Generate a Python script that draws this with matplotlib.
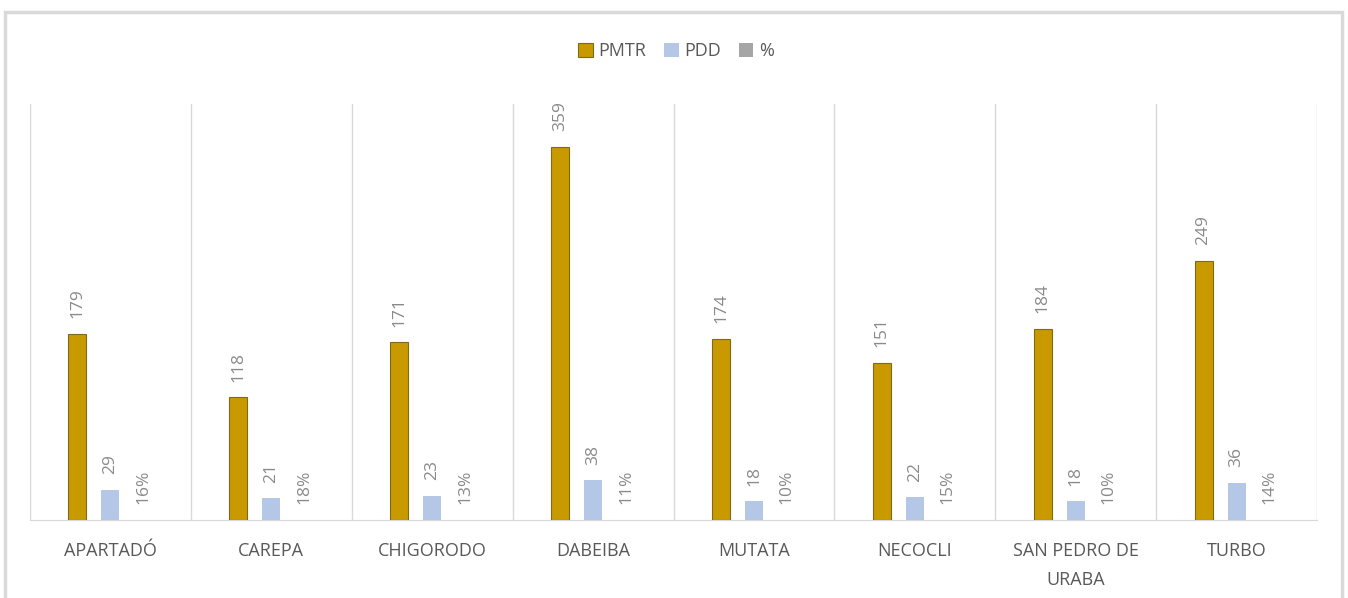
import matplotlib
matplotlib.use("Agg")
import matplotlib.pyplot as plt
import numpy as np
from matplotlib.patches import Rectangle

categories = ["APARTADÓ", "CAREPA", "CHIGORODO", "DABEIBA", "MUTATA", "NECOCLI", "SAN PEDRO DE\nURABA", "TURBO"]
pmtr = [179, 118, 171, 359, 174, 151, 184, 249]
pdd = [29, 21, 23, 38, 18, 22, 18, 36]
pct = [0.16, 0.18, 0.13, 0.11, 0.10, 0.15, 0.10, 0.14]
pct_labels = ["16%", "18%", "13%", "11%", "10%", "15%", "10%", "14%"]

plt.rcParams['font.family'] = ['Open Sans', 'DejaVu Sans']

W, H = 1348, 598
fig = plt.figure(figsize=(W / 100, H / 100), dpi=100)
fig.patches.append(Rectangle((5 / W, -0.05), (1342 - 5) / W, (H - 12) / H + 0.05,
                             transform=fig.transFigure, fill=False,
                             edgecolor="#d9d9d9", linewidth=2.5))

ax = fig.add_axes([30 / W, (H - 520) / H, (1317 - 30) / W, (520 - 104) / H])
x = np.arange(len(categories))
bw = 0.112
off = 0.205
c_pmtr = "#C99A00"
c_pdd = "#B4C7E7"
c_pct = "#A5A5A5"
b1 = ax.bar(x - off, pmtr, bw, color=c_pmtr, edgecolor="#7f6a1a", linewidth=0.8, label="PMTR", zorder=3)
b2 = ax.bar(x, pdd, bw, color=c_pdd, label="PDD", zorder=3)
b3 = ax.bar(x + off, pct, bw, color=c_pct, label="%", zorder=3)

lab_col = "#8a8a8a"
gap = 15
fs = 12.5
for xi, v in zip(x, pmtr):
    ax.text(xi - off, v + gap, str(v), rotation=90, ha="center", va="bottom", fontsize=fs, color=lab_col)
for xi, v in zip(x, pdd):
    ax.text(xi, v + gap, str(v), rotation=90, ha="center", va="bottom", fontsize=fs, color=lab_col)
for xi, v, s in zip(x, pct, pct_labels):
    ax.text(xi + off, v + gap, s, rotation=90, ha="center", va="bottom", fontsize=fs, color=lab_col)

ax.set_xlim(-0.5, len(categories) - 0.5)
ax.set_ylim(0, 400)
ax.set_yticks([])
for b in np.arange(-0.5, len(categories), 1.0):
    ax.axvline(b, color="#d9d9d9", linewidth=1, zorder=1)
for s in ["top", "left", "right"]:
    ax.spines[s].set_visible(False)
ax.spines["bottom"].set_color("#d9d9d9")
ax.set_xticks(x)
ax.set_xticklabels(categories, fontsize=13, color="#595959", linespacing=1.75)
ax.tick_params(axis="x", length=0, pad=16)

leg = fig.legend(handles=[b1, b2, b3], labels=["PMTR", "PDD", "%"], loc="center",
                 bbox_to_anchor=(676 / W, 1 - 51 / H), ncol=3, frameon=False,
                 fontsize=13, handlelength=0.8, handleheight=0.8, handletextpad=0.3,
                 columnspacing=1.0, labelcolor="#595959")

fig.savefig("out.png", dpi=100)
